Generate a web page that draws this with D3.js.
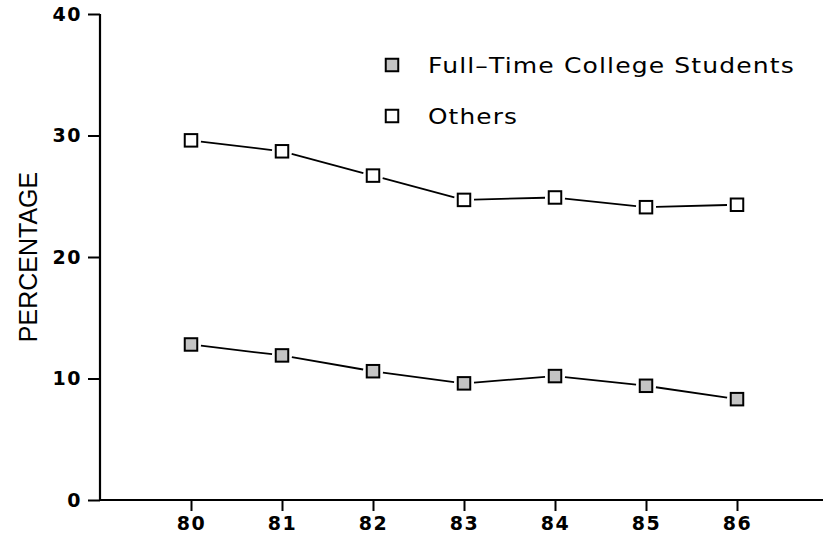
<!DOCTYPE html>
<html>
<head>
<meta charset="utf-8">
<script src="https://cdn.jsdelivr.net/npm/d3@7"></script>
<style>
  html, body { margin: 0; padding: 0; background: #fff; }
  svg { display: block; }
</style>
</head>
<body>
<svg id="chart" width="823" height="539"></svg>
<script>
// ---- data ----
const years = [80, 81, 82, 83, 84, 85, 86];
const students = [12.8, 11.9, 10.6, 9.6, 10.2, 9.4, 8.3];
const others = [29.6, 28.7, 26.7, 24.7, 24.9, 24.1, 24.3];
const yTicks = [0, 10, 20, 30, 40];
const seriesNames = ["Full\u2013Time College Students", "Others"];
const yLabel = "PERCENTAGE";

// ---- layout ----
const svg = d3.select("#chart");
const x = d3.scaleLinear().domain([79, 87]).range([100, 828]);
const y = d3.scaleLinear().domain([0, 40]).range([500, 14]);
const tickFont = "'DejaVu Sans', sans-serif";
const studentFill = "#c4c4c4";

// x axis
const gx = svg.append("g").attr("transform", `translate(0,${y(0)})`)
  .call(d3.axisBottom(x).tickValues(years).tickFormat(d3.format("d")).tickSize(11).tickPadding(6));
gx.select(".domain").attr("stroke", "#000").attr("stroke-width", 2.2)
  .attr("d", `M${x(79)},0H${x(87)}`);
gx.selectAll(".tick line").attr("stroke", "#000").attr("stroke-width", 2);
gx.selectAll(".tick text").attr("fill", "#000").attr("font-family", tickFont)
  .attr("font-weight", "bold").attr("font-size", 19).attr("letter-spacing", "1.5px");

// y axis
const gy = svg.append("g").attr("transform", `translate(${x(79)},0)`)
  .call(d3.axisLeft(y).tickValues(yTicks).tickFormat(d3.format("d")).tickSize(12).tickPadding(6));
gy.select(".domain").attr("stroke", "#000").attr("stroke-width", 2.2)
  .attr("d", `M0,${y(40)}V${y(0)}`);
gy.selectAll(".tick line").attr("stroke", "#000").attr("stroke-width", 2);
gy.selectAll(".tick text").attr("fill", "#000").attr("font-family", tickFont)
  .attr("font-weight", "bold").attr("font-size", 19).attr("letter-spacing", "1.5px");

// y label
svg.append("text")
  .attr("transform", `translate(37,${(y(0) + y(40)) / 2}) rotate(-90)`)
  .attr("text-anchor", "middle")
  .attr("font-family", "'Liberation Sans', Arial, sans-serif")
  .attr("font-size", 25)
  .attr("fill", "#000")
  .text(yLabel);

// series drawing
const msize = 12.5;
const gap = 10;
function drawSeries(vals, fill) {
  const pts = years.map((yr, i) => [x(yr), y(vals[i])]);
  const g = svg.append("g");
  for (let i = 0; i < pts.length - 1; i++) {
    const [x0, y0] = pts[i], [x1, y1] = pts[i + 1];
    const dx = x1 - x0, dy = y1 - y0, len = Math.hypot(dx, dy);
    const ux = dx / len, uy = dy / len;
    g.append("line")
      .attr("x1", x0 + ux * gap).attr("y1", y0 + uy * gap)
      .attr("x2", x1 - ux * gap).attr("y2", y1 - uy * gap)
      .attr("stroke", "#000").attr("stroke-width", 1.8);
  }
  g.selectAll("rect").data(pts).enter().append("rect")
    .attr("x", d => d[0] - msize / 2).attr("y", d => d[1] - msize / 2)
    .attr("width", msize).attr("height", msize)
    .attr("fill", fill).attr("stroke", "#000").attr("stroke-width", 2);
}
drawSeries(others, "#fff");
drawSeries(students, studentFill);

// legend
const legend = [
  { name: seriesNames[0], fill: studentFill, cy: 65, len: 367 },
  { name: seriesNames[1], fill: "#fff", cy: 116, len: 90 }
];
const lg = svg.append("g");
legend.forEach(l => {
  lg.append("rect").attr("x", 392 - msize / 2).attr("y", l.cy - msize / 2)
    .attr("width", msize).attr("height", msize)
    .attr("fill", l.fill).attr("stroke", "#000").attr("stroke-width", 2);
  lg.append("text").attr("x", 428).attr("y", l.cy)
    .attr("dy", "0.36em")
    .attr("font-family", "'DejaVu Sans', sans-serif")
    .attr("font-size", 22)
    .attr("letter-spacing", "1px")
    .attr("textLength", l.len).attr("lengthAdjust", "spacingAndGlyphs")
    .attr("fill", "#000")
    .text(l.name);
});
</script>
</body>
</html>
